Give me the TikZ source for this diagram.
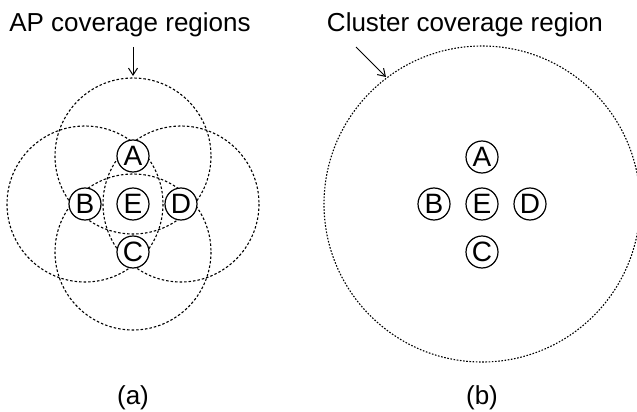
\documentclass[tikz,border=0pt]{standalone}
\usepackage{fontspec}
\setmainfont{Liberation Sans}
\usetikzlibrary{arrows.meta,backgrounds}

\begin{document}
\begin{tikzpicture}[x=1pt, y=-1pt,
      station/.style={circle, draw, line width=1.2pt, fill=white,
                      minimum size=32pt, inner sep=0pt,
                      font=\fontsize{28}{28}\selectfont},
      apzone/.style={line width=1.1pt, dash pattern=on 2.5pt off 2pt},
      clzone/.style={line width=1.1pt, dash pattern=on 1.6pt off 1.6pt},
      pointer/.style={-{Straight Barb[length=7pt,width=9pt]}, line width=1pt},
      every node/.style={font=\fontsize{26}{30}\selectfont}]
    \useasboundingbox (0,0) rectangle (637,412);
    % (a) each AP on its own
    \node[station] (aA) at (133,156) {A};
    \node[station] (aB) at (85,204)  {B};
    \node[station] (aE) at (133,204) {E};
    \node[station] (aD) at (181,204) {D};
    \node[station] (aC) at (133,252) {C};
    \begin{scope}[on background layer]
      \foreach \ap in {aA,aB,aC,aD}
        \draw[apzone] (\ap) circle[radius=78];
    \end{scope}
    \node[anchor=base] (aptext) at (130,32) {AP coverage regions};
    \coordinate (apfrom) at (133,47);
    \coordinate (apto)   at (133,76);
    \draw[pointer] (apfrom) -- (apto);
    \node[anchor=base] (alabel) at (133,404) {(a)};
    % (b) the whole cluster
    \node[station] (bA) at (482,157) {A};
    \node[station] (bB) at (434,204) {B};
    \node[station] (bE) at (482,204) {E};
    \node[station] (bD) at (530,204) {D};
    \node[station] (bC) at (482,252) {C};
    \draw[clzone] (bE) circle[radius=158];
    \node[anchor=base] (cltext) at (465,32) {Cluster coverage region};
    \coordinate (clfrom) at (356,47);
    \coordinate (clto)   at (386,77);
    \draw[pointer] (clfrom) -- (clto);
    \node[anchor=base] (blabel) at (482,404) {(b)};
  \end{tikzpicture}
\end{document}
